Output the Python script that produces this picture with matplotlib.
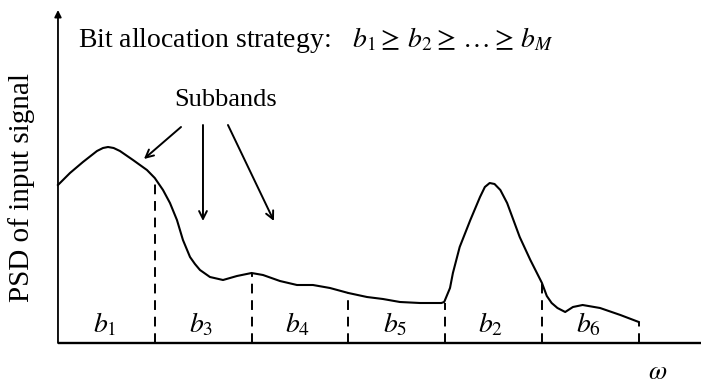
import matplotlib
matplotlib.use("Agg")
import matplotlib.pyplot as plt

plt.rcParams['font.family'] = ['Liberation Serif', 'DejaVu Serif']
plt.rcParams['mathtext.fontset'] = 'stix'

# PSD curve (frequency in subband units, PSD in arbitrary units)
freq = [0.0, 0.124, 0.258, 0.403, 0.465, 0.517, 0.575, 0.640, 0.775, 0.919, 1.0, 1.085,
        1.157, 1.229, 1.291, 1.364, 1.415, 1.467, 1.570, 1.705, 1.849, 2.0, 2.118, 2.293,
        2.469, 2.634, 2.810, 3.0, 3.192, 3.357, 3.533, 3.740, 3.96, 3.99, 4.05, 4.08,
        4.15, 4.26, 4.36, 4.41, 4.46, 4.51, 4.57, 4.64, 4.77, 4.88, 5.0, 5.05, 5.10,
        5.16, 5.24, 5.32, 5.42, 5.60, 5.81, 6.0]
psd = [1.58, 1.70, 1.81, 1.92, 1.95, 1.96, 1.95, 1.92, 1.83, 1.73, 1.65, 1.53,
       1.40, 1.23, 1.03, 0.86, 0.79, 0.73, 0.66, 0.63, 0.67, 0.70, 0.68, 0.62,
       0.58, 0.58, 0.55, 0.50, 0.46, 0.44, 0.41, 0.40, 0.40, 0.41, 0.55, 0.70,
       0.96, 1.23, 1.46, 1.56, 1.60, 1.59, 1.53, 1.40, 1.06, 0.83, 0.60, 0.47, 0.40,
       0.35, 0.31, 0.36, 0.38, 0.35, 0.28, 0.21]

# subband boundaries and heights of the curve there
edges = [1, 2, 3, 4, 5, 6]
edge_heights = [1.65, 0.70, 0.50, 0.40, 0.60, 0.21]
band_labels = ['$b_1$', '$b_3$', '$b_4$', '$b_5$', '$b_2$', '$b_6$']
band_centers = [0.48, 1.48, 2.48, 3.48, 4.47, 5.48]

title_text = r'Bit allocation strategy: $\;\;\,b_1 \geq\, b_2 \geq\, \ldots \geq\, b_M$'
ylabel_text = 'PSD of input signal'
xlabel_text = r'$\omega$'

fig = plt.figure(figsize=(7.01, 3.86), dpi=100)
ax = fig.add_axes([0, 0, 1, 1])
ax.set_xlim(-0.599, 6.643)
ax.set_ylim(-0.43, 3.43)
ax.axis('off')

# axes lines
ax.plot([0, 6.643], [0, 0], color='black', lw=1.7, solid_capstyle='butt')
ax.annotate('', xy=(0, 3.33), xytext=(0, 0),
            arrowprops=dict(arrowstyle='-|>', color='black', lw=1.3,
                            mutation_scale=10, shrinkA=0, shrinkB=0))

# curve
ax.plot(freq, psd, color='black', lw=1.5, solid_joinstyle='round')

# dashed boundaries
for e, h in zip(edges, edge_heights):
    ax.plot([e, e], [0, h], color='black', lw=1.4, linestyle=(0, (5, 3.5)))

# band labels
for c, lab in zip(band_centers, band_labels):
    ax.text(c, 0.18, lab, ha='center', va='center', fontsize=20)

# texts
ax.text(0.207, 3.03, title_text, ha='left', va='center', fontsize=20)
ax.text(-0.372, 1.56, ylabel_text, ha='center', va='center', rotation=90, fontsize=21)
ax.text(6.2, -0.30, xlabel_text, ha='center', va='center', fontsize=19)
ax.text(1.736, 2.43, 'Subbands', ha='center', va='center', fontsize=19)

# subband arrows
arrow_starts = [(1.271, 2.16), (1.498, 2.18), (1.756, 2.18)]
arrow_ends = [(0.888, 1.84), (1.498, 1.22), (2.231, 1.22)]
for s, t in zip(arrow_starts, arrow_ends):
    ax.annotate('', xy=t, xytext=s,
                arrowprops=dict(arrowstyle='->', color='black', lw=1.4,
                                mutation_scale=14, shrinkA=0, shrinkB=0))

fig.savefig('out.png', dpi=100)
